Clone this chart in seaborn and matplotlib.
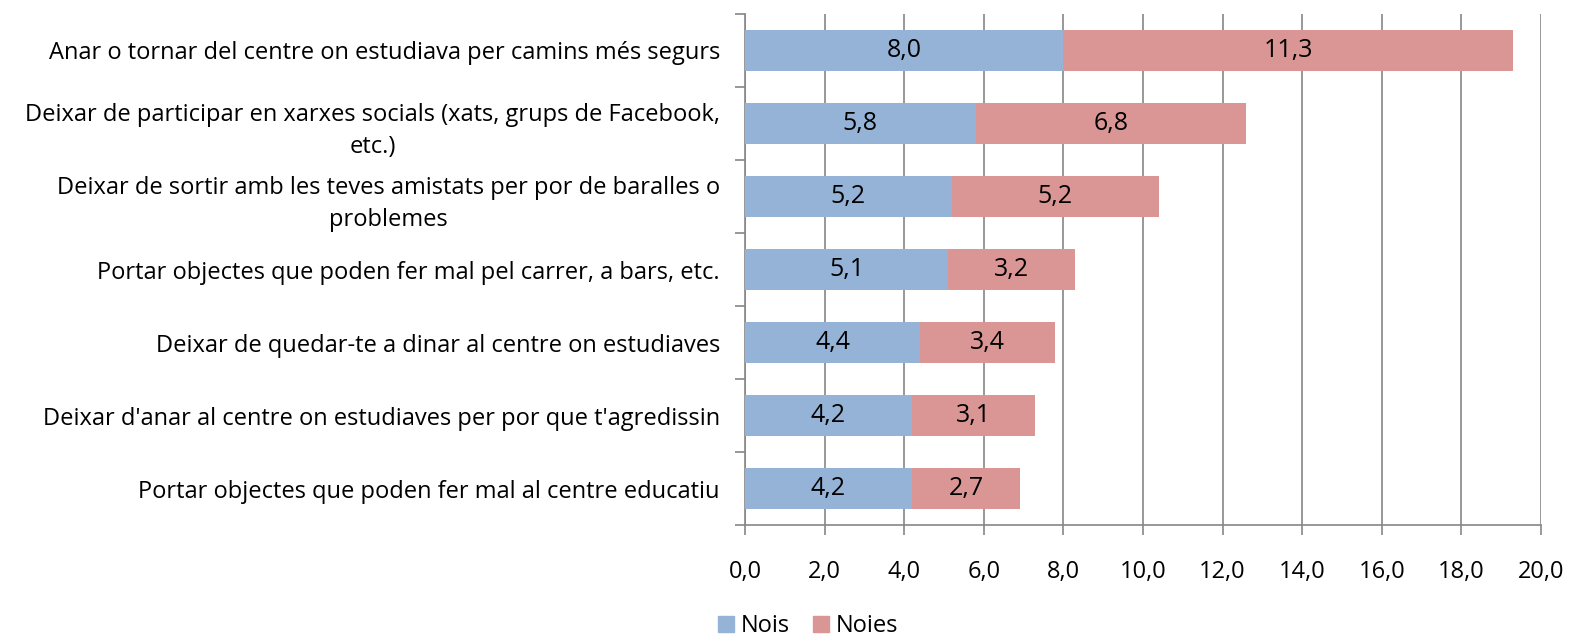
import numpy as np
import pandas as pd
import matplotlib
matplotlib.use("Agg")
import matplotlib.pyplot as plt
import seaborn as sns
from matplotlib.ticker import FixedLocator, FuncFormatter
from matplotlib.patches import Patch

# Dades
categories = [
    "Anar o tornar del centre on estudiava per camins més segurs",
    "Deixar de participar en xarxes socials (xats, grups de Facebook,\netc.)",
    "Deixar de sortir amb les teves amistats per por de baralles o\nproblemes",
    "Portar objectes que poden fer mal pel carrer, a bars, etc.",
    "Deixar de quedar-te a dinar al centre on estudiaves",
    "Deixar d'anar al centre on estudiaves per por que t'agredissin",
    "Portar objectes que poden fer mal al centre educatiu",
]
nois = [8.0, 5.8, 5.2, 5.1, 4.4, 4.2, 4.2]
noies = [11.3, 6.8, 5.2, 3.2, 3.4, 3.1, 2.7]
series = ["Nois", "Noies"]
xticks = [0, 2, 4, 6, 8, 10, 12, 14, 16, 18, 20]

color_nois = "#95B3D7"
color_noies = "#DA9694"
gris = "#868686"
mida = 17

df = pd.DataFrame({"cat": categories, "nois": nois, "noies": noies})
df["total"] = df["nois"] + df["noies"]

sns.set_style("white")
plt.rcParams["font.family"] = ["Open Sans", "DejaVu Sans"]
plt.rcParams["text.color"] = "black"
plt.rcParams["xtick.color"] = "black"
plt.rcParams["ytick.color"] = "black"

fig = plt.figure(figsize=(15.85, 6.35), dpi=100)
ax = fig.add_axes([0.4700, 0.173, 0.5022, 0.805])

# Barres apilades: total (noies) al fons, nois al davant
sns.barplot(data=df, y="cat", x="total", color=color_noies, width=0.56,
            orient="h", ax=ax, saturation=1, linewidth=0, zorder=2)
sns.barplot(data=df, y="cat", x="nois", color=color_nois, width=0.56,
            orient="h", ax=ax, saturation=1, linewidth=0, zorder=3)

n = len(categories)
for i in range(n):
    ax.text(nois[i] / 2, i, f"{nois[i]:.1f}".replace(".", ","),
            ha="center", va="center", fontsize=mida + 1, zorder=4)
    ax.text(nois[i] + noies[i] / 2, i, f"{noies[i]:.1f}".replace(".", ","),
            ha="center", va="center", fontsize=mida + 1, zorder=4)

ax.set_xlim(0, 20)
ax.set_ylim(n - 0.5, -0.5)
ax.xaxis.set_major_locator(FixedLocator(xticks))
ax.xaxis.set_major_formatter(FuncFormatter(lambda v, p: f"{v:.1f}".replace(".", ",")))
ax.grid(axis="x", color=gris, linewidth=1.2, zorder=0)
ax.set_axisbelow(True)

ax.set_xlabel("")
ax.set_ylabel("")
ax.set_yticks(range(n))
ax.set_yticklabels(categories, fontsize=mida, multialignment="center", linespacing=1.45)
ax.tick_params(axis="y", which="major", left=False, length=0, pad=18)
ax.yaxis.set_minor_locator(FixedLocator(np.arange(-0.5, n, 1.0)))
ax.tick_params(axis="y", which="minor", left=True, length=7, color=gris, width=1.2,
               direction="out")
ax.tick_params(axis="x", bottom=True, labelsize=mida, length=7, color=gris, width=1.2,
               direction="out", pad=18)

for s in ["top", "right"]:
    ax.spines[s].set_visible(False)
for s in ["left", "bottom"]:
    ax.spines[s].set_color(gris)
    ax.spines[s].set_linewidth(1.2)

handles = [Patch(color=color_nois, label=series[0]), Patch(color=color_noies, label=series[1])]
fig.legend(handles=handles, loc="center", bbox_to_anchor=(0.51, 0.014), ncol=2,
           frameon=False, fontsize=mida, handlelength=0.65, handleheight=0.65,
           handletextpad=0.3, columnspacing=1.0)

fig.savefig("out.png", dpi=100)
